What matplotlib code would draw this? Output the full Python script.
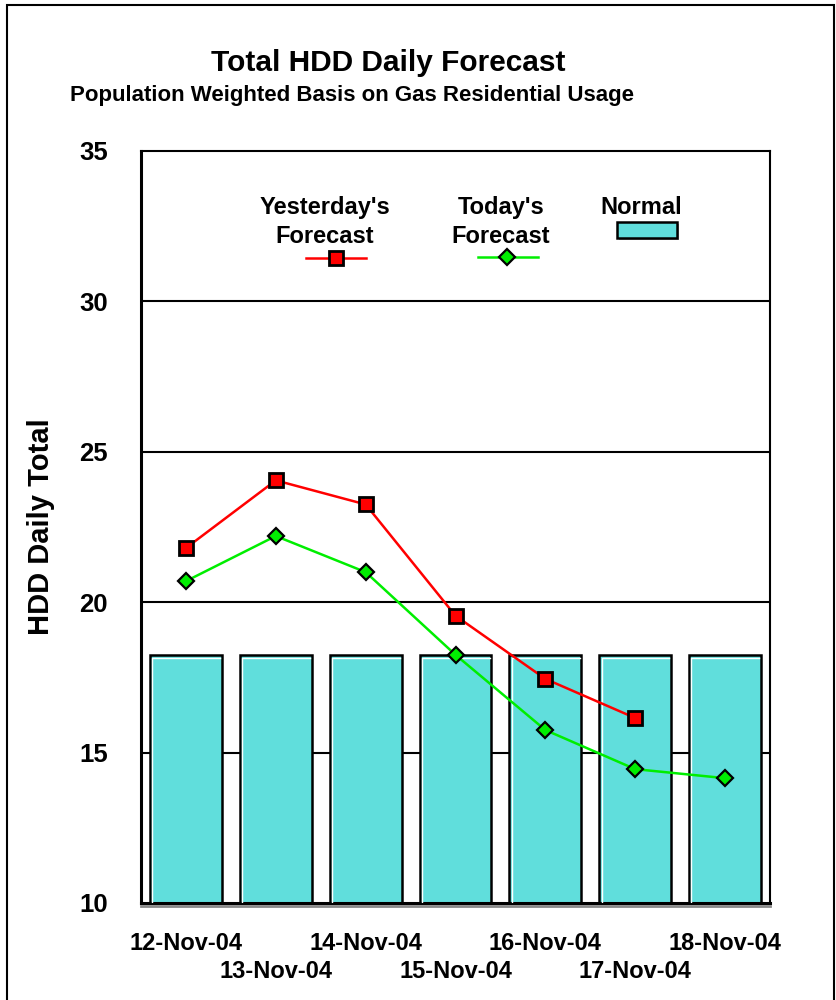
import numpy as np
import matplotlib.pyplot as plt
import matplotlib.patches as mpatches
from matplotlib.lines import Line2D

dates = ['12-Nov-04', '13-Nov-04', '14-Nov-04', '15-Nov-04',
         '16-Nov-04', '17-Nov-04', '18-Nov-04']
normal = [18.25, 18.25, 18.25, 18.25, 18.25, 18.25, 18.25]
yesterday = [21.8, 24.05, 23.25, 19.55, 17.45, 16.15]
today = [20.7, 22.2, 21.0, 18.25, 15.75, 14.45, 14.15]

plt.rcParams['font.family'] = ['Liberation Sans', 'DejaVu Sans']
plt.rcParams['font.weight'] = 'bold'

fig = plt.figure(figsize=(8.36, 10), dpi=100)
fig.patches.append(mpatches.Rectangle((7 / 836, -0.01), 827 / 836, 1.0 - 5 / 1000 + 0.01,
                                      transform=fig.transFigure, fill=False,
                                      edgecolor='black', linewidth=1.5))
ax = fig.add_axes([141 / 836, 97 / 1000, 629 / 836, 752 / 1000])

x = np.arange(len(dates))
ax.set_ylim(10, 35)
ax.set_xlim(-0.5, len(dates) - 0.5)

for yv in [15, 20, 25, 30]:
    ax.axhline(yv, color='black', linewidth=1.5, zorder=1)

bars = ax.bar(x, np.array(normal) - 10, bottom=10, width=0.8, color='#60DEDC',
              edgecolor='black', linewidth=1.8, zorder=2)
# white highlight inside bars
for b in bars:
    bx, by = b.get_x(), b.get_y()
    w, h = b.get_width(), b.get_height()
    ax.plot([bx + 0.025, bx + 0.025, bx + w - 0.02], [by, by + h - 0.12, by + h - 0.12],
            color='white', linewidth=1.0, zorder=3)

ax.plot(x[:len(yesterday)], yesterday, color='red', linewidth=1.8, marker='s',
        markersize=10.5, markerfacecolor='red', markeredgecolor='black',
        markeredgewidth=2, zorder=5)
ax.plot(x, today, color='#00EE00', linewidth=1.8, marker='D', markersize=8.5,
        markerfacecolor='#00EE00', markeredgecolor='black', markeredgewidth=1.6,
        zorder=4)

for s in ax.spines.values():
    s.set_linewidth(1.5)
ax.spines['left'].set_linewidth(2.2)
ax.spines['bottom'].set_linewidth(2.2)
# grey shadow under the x axis
ax.plot([0, 1], [-0.004, -0.004], transform=ax.transAxes, color='#888888',
        linewidth=2, clip_on=False, zorder=6)

ax.set_yticks([10, 15, 20, 25, 30, 35])
ax.tick_params(axis='y', length=0, pad=24, labelsize=18.5)
# staggered date labels: even days on major ticks, odd days on minor ticks
ax.set_xticks(x[::2])
ax.set_xticklabels(dates[::2])
ax.set_xticks(x[1::2], minor=True)
ax.set_xticklabels(dates[1::2], minor=True)
ax.tick_params(axis='x', which='major', length=0, pad=21, labelsize=17)
ax.tick_params(axis='x', which='minor', length=0, pad=41, labelsize=17)
for lab in (ax.get_xticklabels() + ax.get_xticklabels(minor=True)
            + ax.get_yticklabels()):
    lab.set_fontweight('bold')
ax.set_ylabel('HDD Daily Total', fontsize=21, fontweight='bold')
ax.yaxis.set_label_coords(-0.136, 0.5)

fig.text(388 / 836, 1 - 63 / 1000, 'Total HDD Daily Forecast', ha='center',
         va='center', fontsize=21.5, fontweight='bold')
fig.text(352 / 836, 1 - 96 / 1000, 'Population Weighted Basis on Gas Residential Usage',
         ha='center', va='center', fontsize=16, fontweight='bold')

# legend drawn by hand above the data
def ax_xy(px, py):
    return ((px - 141) / 629, (903 - py) / 752)

lx, ly = ax_xy(325, 222)
ax.text(lx, ly, "Yesterday's\nForecast", transform=ax.transAxes, ha='center',
        va='center', fontsize=17, fontweight='bold', linespacing=1.3)
a0, yy = ax_xy(306, 258)
a1, _ = ax_xy(366, 258)
am, _ = ax_xy(336, 258)
ax.add_line(Line2D([a0, a1], [yy, yy], color='red', linewidth=1.8, transform=ax.transAxes))
ax.add_line(Line2D([am], [yy], marker='s', markersize=10.5, markerfacecolor='red',
                   markeredgecolor='black', markeredgewidth=2, transform=ax.transAxes))

lx, ly = ax_xy(501, 222)
ax.text(lx, ly, "Today's\nForecast", transform=ax.transAxes, ha='center',
        va='center', fontsize=17, fontweight='bold', linespacing=1.3)
a0, yy = ax_xy(478, 257)
a1, _ = ax_xy(538, 257)
am, _ = ax_xy(507, 257)
ax.add_line(Line2D([a0, a1], [yy, yy], color='#00EE00', linewidth=1.8, transform=ax.transAxes))
ax.add_line(Line2D([am], [yy], marker='D', markersize=8.5, markerfacecolor='#00EE00',
                   markeredgecolor='black', markeredgewidth=1.6, transform=ax.transAxes))

lx, ly = ax_xy(641, 208)
ax.text(lx, ly, 'Normal', transform=ax.transAxes, ha='center', va='center',
        fontsize=17, fontweight='bold')
r0 = ax_xy(617, 238)
ax.add_patch(mpatches.Rectangle((r0[0] + 0.003, r0[1] - 0.003), 60 / 629, 16 / 752,
                                transform=ax.transAxes, facecolor='#aaaaaa',
                                edgecolor='none'))
ax.add_patch(mpatches.Rectangle(r0, 60 / 629, 16 / 752, transform=ax.transAxes,
                                facecolor='#60DEDC', edgecolor='black', linewidth=1.8))

fig.savefig('out.png', dpi=100)
